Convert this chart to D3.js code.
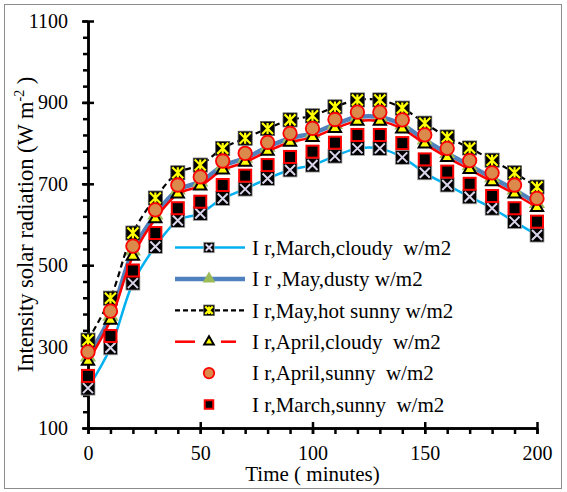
<!DOCTYPE html>
<html>
<head>
<meta charset="utf-8">
<script src="https://cdn.jsdelivr.net/npm/d3@7"></script>
<style>
  body { margin: 0; background: #fff; }
  svg text { font-family: "Liberation Serif", "Times New Roman", serif !important; fill: #000; }
</style>
</head>
<body>
<div class="container"></div>
<script>
const minutes = [0, 10, 20, 30, 40, 50, 60, 70, 80, 90, 100, 110, 120, 130, 140, 150, 160, 170, 180, 190, 200];
const marchCloudy = [198, 297, 456, 546, 610, 627, 664, 687, 713, 734, 746, 768, 787, 787, 765, 727, 697, 668, 640, 607, 574];
const mayDusty = [275, 375, 535, 624, 685, 705, 744, 763, 790, 812, 824, 846, 864, 864, 845, 808, 775, 745, 715, 685, 652];
const mayHotSunny = [316, 419, 579, 665, 727, 746, 787, 812, 836, 857, 867, 889, 906, 906, 886, 849, 815, 788, 758, 727, 692];
const aprilCloudy = [264, 365, 522, 614, 675, 695, 734, 753, 780, 802, 814, 836, 854, 854, 835, 798, 765, 735, 705, 675, 642];
const aprilSunny = [287, 387, 547, 636, 697, 717, 756, 775, 802, 824, 836, 858, 876, 876, 857, 820, 787, 757, 727, 697, 664];
const marchSunny = [228, 326, 487, 579, 640, 656, 697, 720, 746, 766, 779, 801, 820, 820, 800, 760, 730, 700, 670, 640, 607];

const xTicks = [0, 50, 100, 150, 200];
const yTicks = [100, 300, 500, 700, 900, 1100];
const yMinorTicks = [100, 140, 180, 220, 260, 300, 340, 380, 420, 460, 500, 540, 580, 620, 660, 700, 740, 780, 820, 860, 900, 940, 980, 1020, 1060, 1100];
const legendLabels = [
  'I r,March,cloudy  w/m2',
  'I r ,May,dusty w/m2',
  'I r,May,hot sunny w/m2',
  'I r,April,cloudy  w/m2',
  'I r,April,sunny  w/m2',
  'I r,March,sunny  w/m2'
];

const width = 567;
const height = 492;
const serif = '"Liberation Serif", "Times New Roman", serif';

const svg = d3.select('.container').append('svg').attr('width', width).attr('height', height);

svg.append('rect')
  .attr('x', 4.5).attr('y', 4.5)
  .attr('width', 557).attr('height', 484)
  .attr('fill', '#fff')
  .attr('stroke', '#8c8c8c');

const xScale = d3.scaleLinear().domain([0, 200]).range([88, 537]);
const yScale = d3.scaleLinear().domain([100, 1100]).range([428, 21]);

// axes: minor ticks first, then the major ones crossing the line
const axesGroup = svg.append('g').attr('class', 'axes');

const xMinorGroup = axesGroup.append('g').attr('transform', `translate(0,${yScale(100)})`);
d3.axisBottom(xScale).tickValues(minutes).tickSize(6).tickSizeOuter(0).tickFormat('')(xMinorGroup);

const xMajorGroup = axesGroup.append('g').attr('transform', `translate(0,${yScale(100)})`);
d3.axisBottom(xScale).tickValues(xTicks).tickSize(6).tickSizeOuter(0).tickPadding(12).tickFormat(d3.format('d'))(xMajorGroup);
xMajorGroup.selectAll('.tick line').attr('y1', -6);

const yMinorGroup = axesGroup.append('g').attr('transform', `translate(${xScale(0)},0)`);
d3.axisLeft(yScale).tickValues(yMinorTicks).tickSize(5).tickSizeOuter(0).tickFormat('')(yMinorGroup);

const yMajorGroup = axesGroup.append('g').attr('transform', `translate(${xScale(0)},0)`);
d3.axisLeft(yScale).tickValues(yTicks).tickSize(6).tickSizeOuter(0).tickPadding(14).tickFormat(d3.format('d'))(yMajorGroup);
yMajorGroup.selectAll('.tick line').attr('x1', 6);

axesGroup.selectAll('g').attr('font-family', serif).attr('font-size', 20);
axesGroup.selectAll('.domain, .tick line').attr('stroke', '#000').attr('stroke-width', 2.5);
axesGroup.selectAll('.tick text').attr('font-size', 20).style('font-family', serif);

// axis titles
svg.append('text')
  .attr('x', (xScale(0) + xScale(200)) / 2)
  .attr('y', 481)
  .attr('text-anchor', 'middle')
  .attr('font-size', 21)
  .text('Time ( minutes)');

const yTitle = svg.append('text')
  .attr('transform', `translate(33,${(yScale(100) + yScale(1100)) / 2}) rotate(-90)`)
  .attr('text-anchor', 'middle')
  .attr('font-size', 22.5);
yTitle.append('tspan').text('Intensity solar radiation (W m');
yTitle.append('tspan').attr('font-size', 14).attr('dy', -9).text('-2');
yTitle.append('tspan').attr('dy', 9).text(' )');

const drawMarker = (g, type, s) => {
  if (type === 'xbox') {
    const k = s / 2 - 2;
    g.append('rect').attr('x', -s / 2).attr('y', -s / 2).attr('width', s).attr('height', s)
      .attr('fill', '#000').attr('stroke', '#a6a6a6').attr('stroke-width', 0.8);
    g.append('path').attr('d', `M${-k},${-k}L${k},${k}M${-k},${k}L${k},${-k}`)
      .attr('stroke', '#DAD4EA').attr('stroke-width', 2);
  } else if (type === 'greenTri') {
    g.append('path').attr('d', d3.symbol(d3.symbolTriangle, s * s * 0.5)())
      .attr('fill', '#9BBB59');
  } else if (type === 'starbox') {
    const k = s / 2 - 1.5;
    g.append('rect').attr('x', -s / 2).attr('y', -s / 2).attr('width', s).attr('height', s)
      .attr('fill', '#000').attr('stroke', '#555').attr('stroke-width', 0.8);
    g.append('path').attr('d', `M${-k},${-k}L${k},${k}M${-k},${k}L${k},${-k}M0,${-k}L0,${k}`)
      .attr('stroke', '#FFFF00').attr('stroke-width', 2.2);
  } else if (type === 'yellowTri') {
    g.append('path').attr('d', d3.symbol(d3.symbolTriangle, s * s * 0.36)())
      .attr('fill', '#FFFF00').attr('stroke', '#000').attr('stroke-width', 2);
  } else if (type === 'circle') {
    g.append('circle').attr('r', s / 2)
      .attr('fill', '#DB8A4C').attr('stroke', '#FF0000').attr('stroke-width', 1.8);
  } else if (type === 'square') {
    g.append('rect').attr('x', -s / 2 + 1).attr('y', -s / 2 + 1).attr('width', s - 2).attr('height', s - 2)
      .attr('fill', '#000').attr('stroke', '#FF0000').attr('stroke-width', 2);
  }
};

const series = [
  { label: legendLabels[0], values: marchCloudy, stroke: '#00B0F0', lineWidth: 2.5, dash: null, marker: 'xbox', size: 14 },
  { label: legendLabels[1], values: mayDusty, stroke: '#4F81BD', lineWidth: 4.5, dash: null, marker: 'greenTri', size: 15 },
  { label: legendLabels[2], values: mayHotSunny, stroke: '#000', lineWidth: 2.2, dash: '6,4', marker: 'starbox', size: 14 },
  { label: legendLabels[3], values: aprilCloudy, stroke: '#FF0000', lineWidth: 2.5, dash: null, marker: 'yellowTri', size: 13.5, gap: true },
  { label: legendLabels[4], values: aprilSunny, stroke: null, marker: 'circle', size: 13.5 },
  { label: legendLabels[5], values: marchSunny, stroke: null, marker: 'square', size: 14 }
];

const line = d3.line()
  .x((d, i) => xScale(minutes[i]))
  .y(d => yScale(d))
  .curve(d3.curveCatmullRom.alpha(0.5));

const seriesGroup = svg.append('g').attr('class', 'series');

series.forEach(s => {
  const g = seriesGroup.append('g');
  if (s.stroke) {
    g.append('path')
      .attr('d', line(s.values))
      .attr('fill', 'none')
      .attr('stroke', s.stroke)
      .attr('stroke-width', s.lineWidth)
      .attr('stroke-dasharray', s.dash);
  }
  g.selectAll('g.pt').data(s.values).enter().append('g')
    .attr('class', 'pt')
    .attr('transform', (d, i) => `translate(${xScale(minutes[i])},${yScale(d)})`)
    .each(function () { drawMarker(d3.select(this), s.marker, s.size); });
});

// legend
const legend = svg.append('g').attr('class', 'legend');
series.forEach((s, i) => {
  const y = 247.5 + i * 31.4;
  const row = legend.append('g');
  if (s.stroke) {
    const segs = s.gap ? [[175, 195], [221, 236]] : [[175, 245]];
    segs.forEach(([a, b]) => {
      row.append('line').attr('x1', a).attr('x2', b).attr('y1', y).attr('y2', y)
        .attr('stroke', s.stroke).attr('stroke-width', s.lineWidth)
        .attr('stroke-dasharray', s.dash ? '5,3' : null);
    });
  }
  const m = row.append('g').attr('transform', `translate(209,${y})`);
  drawMarker(m, s.marker, s.marker === 'greenTri' ? 12 : 10.5);
  row.append('text')
    .attr('x', 252)
    .attr('y', y)
    .attr('dy', '0.35em')
    .attr('font-size', 21)
    .style('white-space', 'pre')
    .text(s.label);
});
</script>
</body>
</html>
